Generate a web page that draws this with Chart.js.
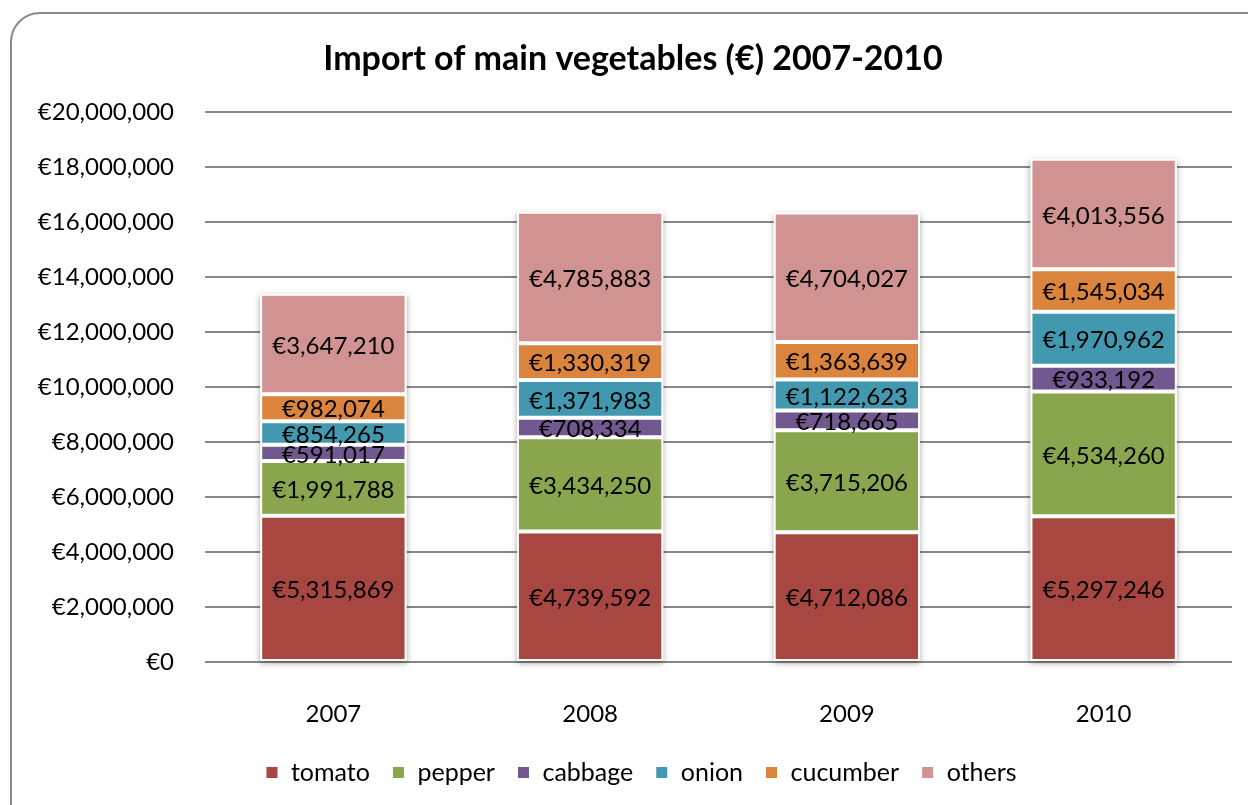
<!DOCTYPE html>
<html>
<head>
<meta charset="utf-8">
<script src="https://cdn.jsdelivr.net/npm/chart.js@4"></script>
<style>
  html, body { margin: 0; padding: 0; background: #fff; overflow: hidden; }
  #wrap { position: relative; width: 1248px; height: 805px; }
  #frame {
    position: absolute; left: 10px; top: 12px; width: 1270px; height: 830px;
    border: 2px solid #888; border-radius: 30px; box-sizing: border-box;
  }
  #chart { position: absolute; left: 0; top: 0; }
</style>
</head>
<body>
<div id="wrap">
  <div id="frame"></div>
  <canvas id="chart" width="1248" height="805"></canvas>
</div>
<script>
const years = ["2007", "2008", "2009", "2010"];
const tomato = [5315869, 4739592, 4712086, 5297246];
const pepper = [1991788, 3434250, 3715206, 4534260];
const cabbage = [591017, 708334, 718665, 933192];
const onion = [854265, 1371983, 1122623, 1970962];
const cucumber = [982074, 1330319, 1363639, 1545034];
const others = [3647210, 4785883, 4704027, 4013556];
const yTicks = [0, 2000000, 4000000, 6000000, 8000000, 10000000, 12000000, 14000000, 16000000, 18000000, 20000000];

const FONT = "Lato, 'Open Sans', sans-serif";
const euro = v => "€" + v.toLocaleString("en-US");

// draw value labels in the middle of each segment
const valueLabels = {
  id: "valueLabels",
  afterDatasetsDraw(chart) {
    const ctx = chart.ctx;
    ctx.save();
    ctx.font = "24px " + FONT;
    ctx.fillStyle = "#000";
    ctx.textAlign = "center";
    ctx.textBaseline = "middle";
    chart.data.datasets.forEach((ds, i) => {
      const meta = chart.getDatasetMeta(i);
      meta.data.forEach((bar, j) => {
        const y = (bar.y + bar.base) / 2;
        ctx.fillText(euro(ds.data[j]), bar.x, y + 2);
      });
    });
    ctx.restore();
  }
};

// soft shadow behind each stacked column
const barShadow = {
  id: "barShadow",
  beforeDatasetsDraw(chart) {
    const ctx = chart.ctx;
    const first = chart.getDatasetMeta(0).data;
    const last = chart.getDatasetMeta(chart.data.datasets.length - 1).data;
    ctx.save();
    ctx.shadowColor = "rgba(0,0,0,0.35)";
    ctx.shadowBlur = 6;
    ctx.shadowOffsetY = 2;
    ctx.fillStyle = "#fff";
    first.forEach((bar, j) => {
      const top = last[j].y;
      const w = bar.width;
      ctx.fillRect(bar.x - w / 2, top, w, bar.base - top);
    });
    ctx.restore();
  }
};

// nudge title and legend to sit where Excel centres them
const centreShift = {
  id: "centreShift",
  afterLayout(chart) {
    if (chart.titleBlock) { chart.titleBlock.left += 12; chart.titleBlock.right += 12; }
    if (chart.legend) { chart.legend.left += 20; chart.legend.right += 20; }
  }
};

const mk = (label, data, color) => ({
  label: label,
  data: data,
  backgroundColor: color,
  borderColor: "#fff",
  borderWidth: 2,
  borderSkipped: false,
  categoryPercentage: 1,
  barPercentage: 0.57
});

new Chart(document.getElementById("chart"), {
  type: "bar",
  data: {
    labels: years,
    datasets: [
      mk("tomato", tomato, "#A84642"),
      mk("pepper", pepper, "#89A54E"),
      mk("cabbage", cabbage, "#71588F"),
      mk("onion", onion, "#4198AF"),
      mk("cucumber", cucumber, "#DB843D"),
      mk("others", others, "#D19392")
    ]
  },
  options: {
    responsive: false,
    animation: false,
    layout: { padding: { left: 10, right: 16, top: 0, bottom: 10 } },
    plugins: {
      title: {
        display: true,
        text: "Import of main vegetables (€) 2007-2010",
        color: "#000",
        font: { family: FONT, size: 34, weight: "bold" },
        padding: { top: 39, bottom: 32 }
      },
      legend: {
        position: "bottom",
        labels: {
          color: "#000",
          font: { family: FONT, size: 25 },
          boxWidth: 13,
          boxHeight: 13,
          padding: 22
        }
      },
      tooltip: { enabled: false }
    },
    scales: {
      x: {
        stacked: true,
        grid: { display: false },
        border: { display: false },
        ticks: { color: "#000", font: { family: FONT, size: 24 }, padding: 30 },
        afterFit: s => { s.height = 76; }
      },
      y: {
        stacked: true,
        min: 0,
        max: 20000000,
        afterBuildTicks: s => { s.ticks = yTicks.map(v => ({ value: v })); },
        grid: { color: "#888", lineWidth: 2, drawTicks: false },
        border: { display: false },
        ticks: {
          color: "#000",
          font: { family: FONT, size: 24 },
          padding: 31,
          callback: v => euro(v)
        },
        afterFit: s => { s.width = 195; }
      }
    }
  },
  plugins: [barShadow, valueLabels, centreShift]
});
</script>
</body>
</html>
